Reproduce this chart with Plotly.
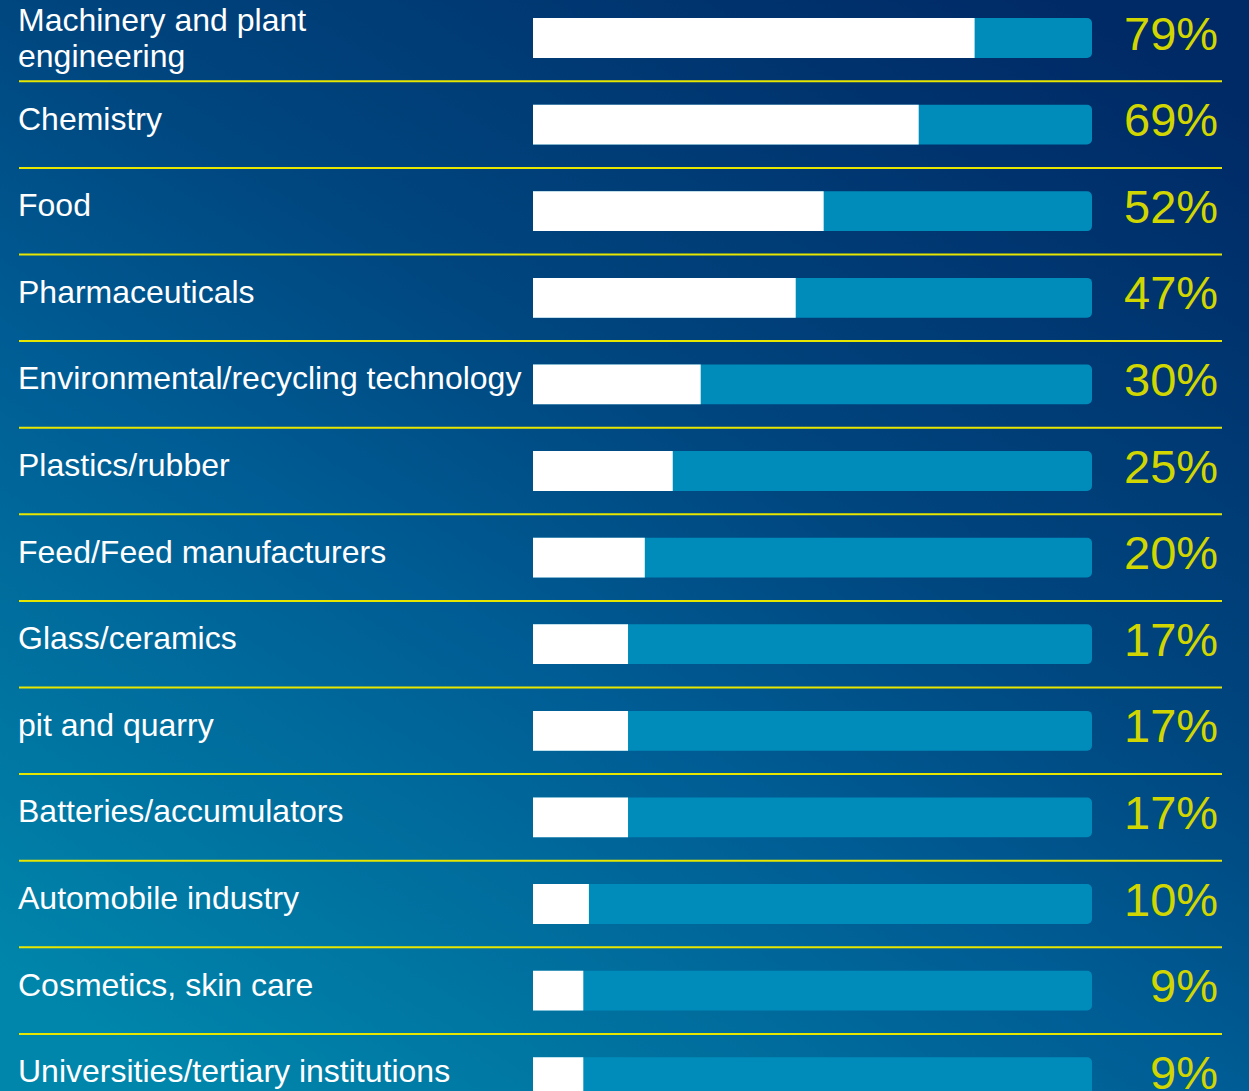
import base64
import plotly.graph_objects as go

# data
branchen = [
    "Machinery and plant<br>engineering",
    "Chemistry",
    "Food",
    "Pharmaceuticals",
    "Environmental/recycling technology",
    "Plastics/rubber",
    "Feed/Feed manufacturers",
    "Glass/ceramics",
    "pit and quarry",
    "Batteries/accumulators",
    "Automobile industry",
    "Cosmetics, skin care",
    "Universities/tertiary institutions",
]
anteile = [79, 69, 52, 47, 30, 25, 20, 17, 17, 17, 10, 9, 9]
skala_max = 100

W, H = 1249, 1091
FONT = "Liberation Sans, Arial, sans-serif"
TRACK = "#008cba"
GELB_LINIE = "#e6e600"
GELB_TEXT = "#d2d600"

# Hintergrund: diagonaler Verlauf als SVG-Bild
svg = (
    f'<svg xmlns="http://www.w3.org/2000/svg" width="{W}" height="{H}" '
    f'viewBox="0 0 {W} {H}" preserveAspectRatio="none">'
    '<defs><linearGradient id="g" x1="0.85" y1="0" x2="0.15" y2="1">'
    '<stop offset="0" stop-color="#002a66"/>'
    '<stop offset="0.4" stop-color="#00467f"/>'
    '<stop offset="0.6" stop-color="#005c94"/>'
    '<stop offset="1" stop-color="#0086ab"/>'
    '</linearGradient></defs>'
    f'<rect width="{W}" height="{H}" fill="url(#g)"/></svg>'
)
bg_src = "data:image/svg+xml;base64," + base64.b64encode(svg.encode()).decode()

pos = list(range(len(branchen)))

fig = go.Figure()

fig.add_trace(go.Bar(
    y=pos,
    x=[skala_max] * len(pos),
    orientation="h",
    width=0.46,
    marker=dict(color=TRACK, cornerradius=5, line=dict(width=0)),
    hoverinfo="skip",
    showlegend=False,
))
fig.add_trace(go.Bar(
    y=pos,
    x=anteile,
    orientation="h",
    width=0.46,
    marker=dict(color="white", cornerradius=5, line=dict(width=0)),
    customdata=[b.replace("<br>", " ") for b in branchen],
    hovertemplate="%{customdata}: %{x}%<extra></extra>",
    showlegend=False,
))

annotations = []
for i, (name, wert) in enumerate(zip(branchen, anteile)):
    zeilen = name.split("<br>")
    if len(zeilen) == 1:
        shifts = [6]
    else:
        shifts = [18, -18]
    for zeile, ys in zip(zeilen, shifts):
        annotations.append(dict(
            x=16 / W, xref="paper", xanchor="left",
            y=i, yref="y", yanchor="middle", yshift=ys,
            text=zeile, showarrow=False,
            font=dict(family=FONT, size=32, color="white"),
        ))
    annotations.append(dict(
        x=1220 / W, xref="paper", xanchor="right",
        y=i, yref="y", yanchor="middle", yshift=5,
        text=f"{wert}%", showarrow=False,
        font=dict(family=FONT, size=47, color=GELB_TEXT),
    ))

shapes = []
for i in range(len(branchen) - 1):
    shapes.append(dict(
        type="line", xref="paper", yref="y",
        x0=19 / W, x1=1222 / W, y0=i + 0.5, y1=i + 0.5,
        line=dict(color=GELB_LINIE, width=2),
    ))

pitch = 86.6
top_px = 38
fig.update_layout(
    width=W,
    height=H,
    margin=dict(l=0, r=0, t=0, b=0),
    paper_bgcolor="#00507f",
    plot_bgcolor="rgba(0,0,0,0)",
    barmode="overlay",
    xaxis=dict(
        domain=[533 / W, 1092 / W],
        range=[0, skala_max],
        visible=False,
        fixedrange=True,
    ),
    yaxis=dict(
        range=[(H - top_px) / pitch, -top_px / pitch],
        visible=False,
        fixedrange=True,
    ),
    images=[dict(
        source=bg_src, xref="paper", yref="paper",
        x=0, y=1, sizex=1, sizey=1,
        xanchor="left", yanchor="top",
        sizing="stretch", layer="below",
    )],
    annotations=annotations,
    shapes=shapes,
    font=dict(family=FONT),
)

fig.write_html(
    "out.html",
    config={"displayModeBar": False},
    post_script="document.body.style.margin='0';document.body.style.overflow='hidden';",
)
